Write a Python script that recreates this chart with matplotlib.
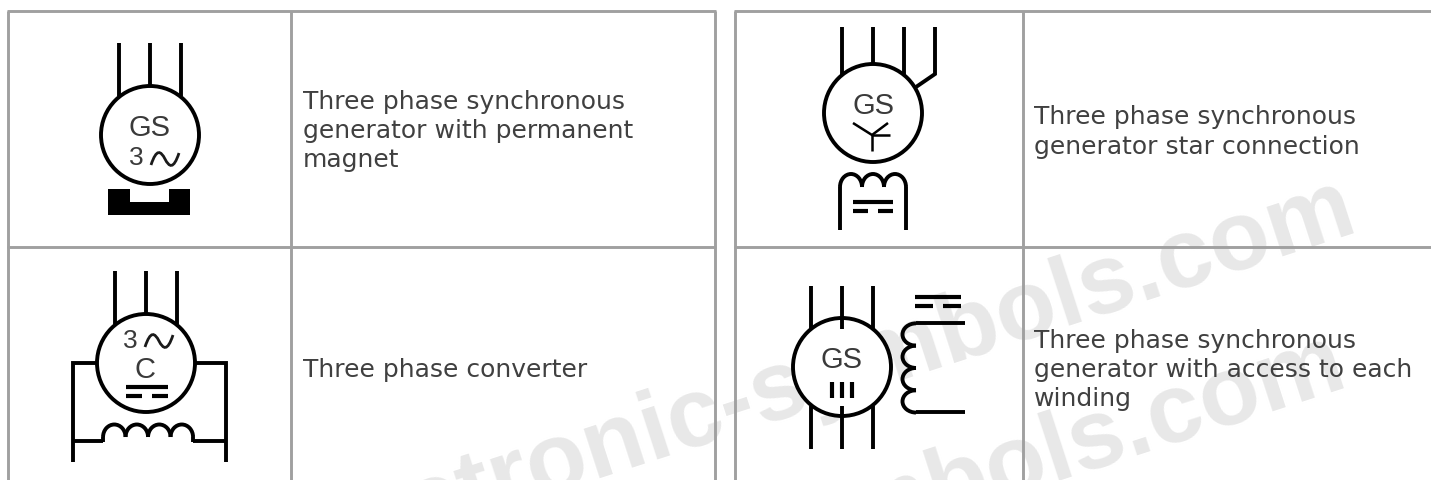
import matplotlib
matplotlib.use("Agg")
import matplotlib.pyplot as plt
from matplotlib.patches import Arc, Circle, PathPatch, Polygon
from matplotlib.path import Path

# table grid
left_cols = [8, 291, 715]
right_cols = [735, 1023]
table_right = 1431
row_lines = [12, 248]
grid_col = "#a0a0a0"

# cell captions
captions = [
    (303, 131, "Three phase synchronous\ngenerator with permanent\nmagnet"),
    (1034, 132, "Three phase synchronous\ngenerator star connection"),
    (303, 370, "Three phase converter"),
    (1034, 370, "Three phase synchronous\ngenerator with access to each\nwinding"),
]
watermarks = [
    (1360, 230, "electronic-symbols.com"),
    (1350, 385, "electronic-symbols.com"),
]

# generator circles, radius 49
circles = [(150, 136), (146, 364), (873, 114), (842, 368)]
radius = 49

LW = 2.8

fig = plt.figure(figsize=(14.31, 4.81), dpi=100)
ax = fig.add_axes([0, 0, 1, 1])
ax.set_xlim(0, 1431)
ax.set_ylim(481, 0)
ax.axis("off")


def line(xs, ys, lw=LW, **kw):
    ax.plot(xs, ys, color="black", lw=lw, solid_capstyle="butt", solid_joinstyle="miter", zorder=4, **kw)


def label(x, y, s, size=21):
    ax.text(x, y, s, ha="center", va="center", fontsize=size, family="Liberation Sans",
            color="#3a3a3a", zorder=5)


def tilde(x0, x1, y):
    w = x1 - x0
    verts = [(x0, y + 6), (x0 + w * 0.2, y - 11), (x0 + w * 0.35, y - 8), (x0 + w * 0.5, y),
             (x0 + w * 0.65, y + 8), (x0 + w * 0.8, y + 11), (x1, y - 6)]
    codes = [Path.MOVETO] + [Path.CURVE4] * 6
    ax.add_patch(PathPatch(Path(verts, codes), fc="none", ec="#1a1a1a", lw=2.0, zorder=5))


def hump(cx, cy, w, h, t1, t2):
    ax.add_patch(Arc((cx, cy), w, h, theta1=t1, theta2=t2, color="black", lw=LW, zorder=4))


def capacitor(x0, x1, y, gap=10):
    mid = (x0 + x1) / 2
    line([x0, x1], [y, y], lw=3.0)
    line([x0, mid - gap / 2], [y + 9, y + 9], lw=3.0)
    line([mid + gap / 2, x1], [y + 9, y + 9], lw=3.0)


# watermark
for x, y, s in watermarks:
    ax.text(x, y, s, ha="right", va="baseline", fontsize=71, rotation=18, color="#e8e8e8",
            family=["Liberation Sans Narrow", "Liberation Sans"], fontweight="bold", zorder=1,
            rotation_mode="anchor", clip_on=True)

# grid
for x in left_cols + right_cols:
    ax.plot([x, x], [row_lines[0], 481], color=grid_col, lw=2.1, zorder=2, solid_capstyle="butt")
for x0, x1 in [(left_cols[0], left_cols[-1]), (right_cols[0], table_right)]:
    for y in row_lines:
        ax.plot([x0 - 1, x1 + 1], [y, y], color=grid_col, lw=2.1, zorder=2, solid_capstyle="butt")

# captions
for x, y, s in captions:
    ax.text(x, y, s, ha="left", va="center", fontsize=18.0, family="DejaVu Sans",
            color="#404040", linespacing=1.27, zorder=5)

# circles
for c in circles:
    ax.add_patch(Circle(c, radius, fc="white", ec="black", lw=LW, zorder=3))

# symbol 1: permanent magnet
for x, y_end in [(119, 97), (150, 87), (181, 97)]:
    line([x, x], [44, y_end])
label(150, 128, "GS")
label(136, 158, "3", 19)
tilde(151, 179, 160)
ax.add_patch(Polygon([(108, 190), (130, 190), (130, 203), (169, 203), (169, 190), (190, 190),
                      (190, 216), (108, 216)], fc="black", ec="none", zorder=4))

# symbol 2: converter
for x, y_end in [(115, 325), (146, 315), (177, 325)]:
    line([x, x], [272, y_end])
label(130, 341, "3", 19)
tilde(145, 173, 342)
label(145, 370, "C")
capacitor(126, 168, 388)
line([97, 73, 73], [364, 364, 463])
line([195, 226, 226], [364, 364, 463])
line([73, 103], [442, 442])
line([193, 226], [442, 442])
for i in range(4):
    hump(114.3 + 22.5 * i, 438, 22.5, 25, 180, 360)
line([103, 103], [438, 443])
line([193, 193], [438, 443])

# symbol 3: star connection
for x, y_end in [(842, 76), (873, 66), (904, 76)]:
    line([x, x], [28, y_end])
line([935, 935, 916], [28, 75, 88])
label(873, 106, "GS")
line([853, 872, 888], [124, 136, 124], lw=1.8)
line([872, 872], [136, 152], lw=1.8)
line([872, 890], [136, 136], lw=1.8)
line([840, 840], [231, 188])
line([906, 906], [231, 188])
for i in range(3):
    hump(851 + 22 * i, 188, 22, 26, 180, 360)
capacitor(853, 893, 203)

# symbol 4: access to each winding
for x in [811, 842, 873]:
    line([x, x], [287, 330])
    line([x, x], [407, 450])
label(842, 360, "GS")
for x in [832, 842, 852]:
    line([x, x], [383, 399], lw=3.0)
capacitor(915, 961, 298, gap=10)
line([916, 965], [324, 324])
line([916, 965], [413, 413])
for i in range(4):
    hump(916, 335.5 + 22.3 * i, 27, 22.3, 90, 270)

fig.savefig("out.png", dpi=100)
